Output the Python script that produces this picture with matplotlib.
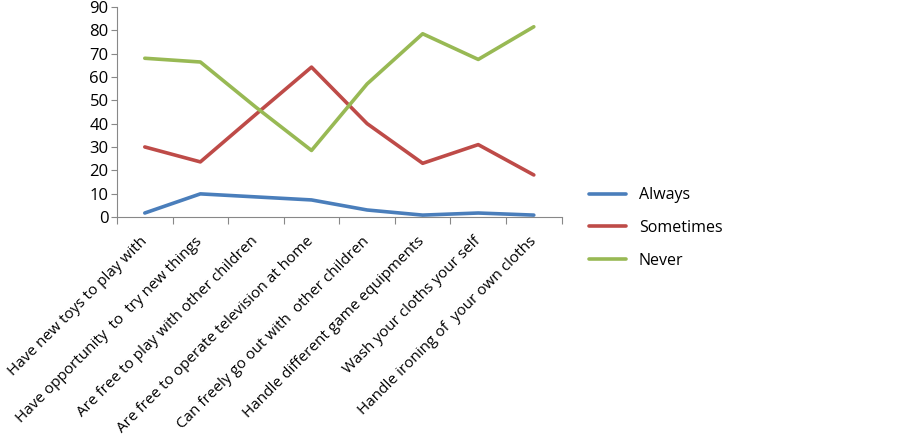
import matplotlib.pyplot as plt
import numpy as np

categories = [
    'Have new toys to play with',
    'Have opportunity  to  try new things',
    'Are free to play with other children',
    'Are free to operate television at home',
    'Can freely go out with  other children',
    'Handle different game equipments',
    'Wash your cloths your self',
    'Handle ironing of  your own cloths',
]
always = [1.7, 9.9, 8.6, 7.3, 3.0, 0.8, 1.7, 0.8]
sometimes = [30, 23.6, 44, 64.2, 40, 23, 31, 18]
never = [68, 66.4, 47, 28.5, 57, 78.5, 67.5, 81.5]

series = [('Always', always, '#4A7EBB'),
          ('Sometimes', sometimes, '#BE4B48'),
          ('Never', never, '#98B954')]

plt.rcParams['font.family'] = ['Open Sans', 'DejaVu Sans']


def main():
    fig = plt.figure(figsize=(9, 4.46), dpi=100)
    ax = fig.add_axes([0.13, 0.5135, 0.494, 0.471])

    x = np.arange(len(categories))
    for name, vals, col in series:
        ax.plot(x, vals, color=col, lw=2.6, label=name, solid_capstyle='round')

    ax.set_xlim(-0.5, len(categories) - 0.5)
    ax.set_ylim(0, 90)
    ax.set_yticks(range(0, 91, 10))
    ax.tick_params(axis='y', labelsize=12, length=4, color='#888888', pad=2)

    # boundary ticks as majors, labels on minor ticks at centres
    ax.set_xticks(np.arange(-0.5, len(categories), 1.0))
    ax.set_xticklabels([])
    ax.set_xticks(x, minor=True)
    ax.set_xticklabels(categories, minor=True, rotation=45, ha='right',
                       va='center', rotation_mode='anchor', fontsize=11)
    ax.tick_params(axis='x', which='major', length=5, color='#888888')
    ax.tick_params(axis='x', which='minor', length=0, pad=16)

    for s in ['top', 'right']:
        ax.spines[s].set_visible(False)
    for s in ['left', 'bottom']:
        ax.spines[s].set_color('#888888')

    ax.legend(loc='center left', bbox_to_anchor=(1.03, -0.052), frameon=False,
              fontsize=11.5, handlelength=2.3, labelspacing=1.05)

    fig.savefig('out.png', dpi=100)


if __name__ == '__main__':
    main()
